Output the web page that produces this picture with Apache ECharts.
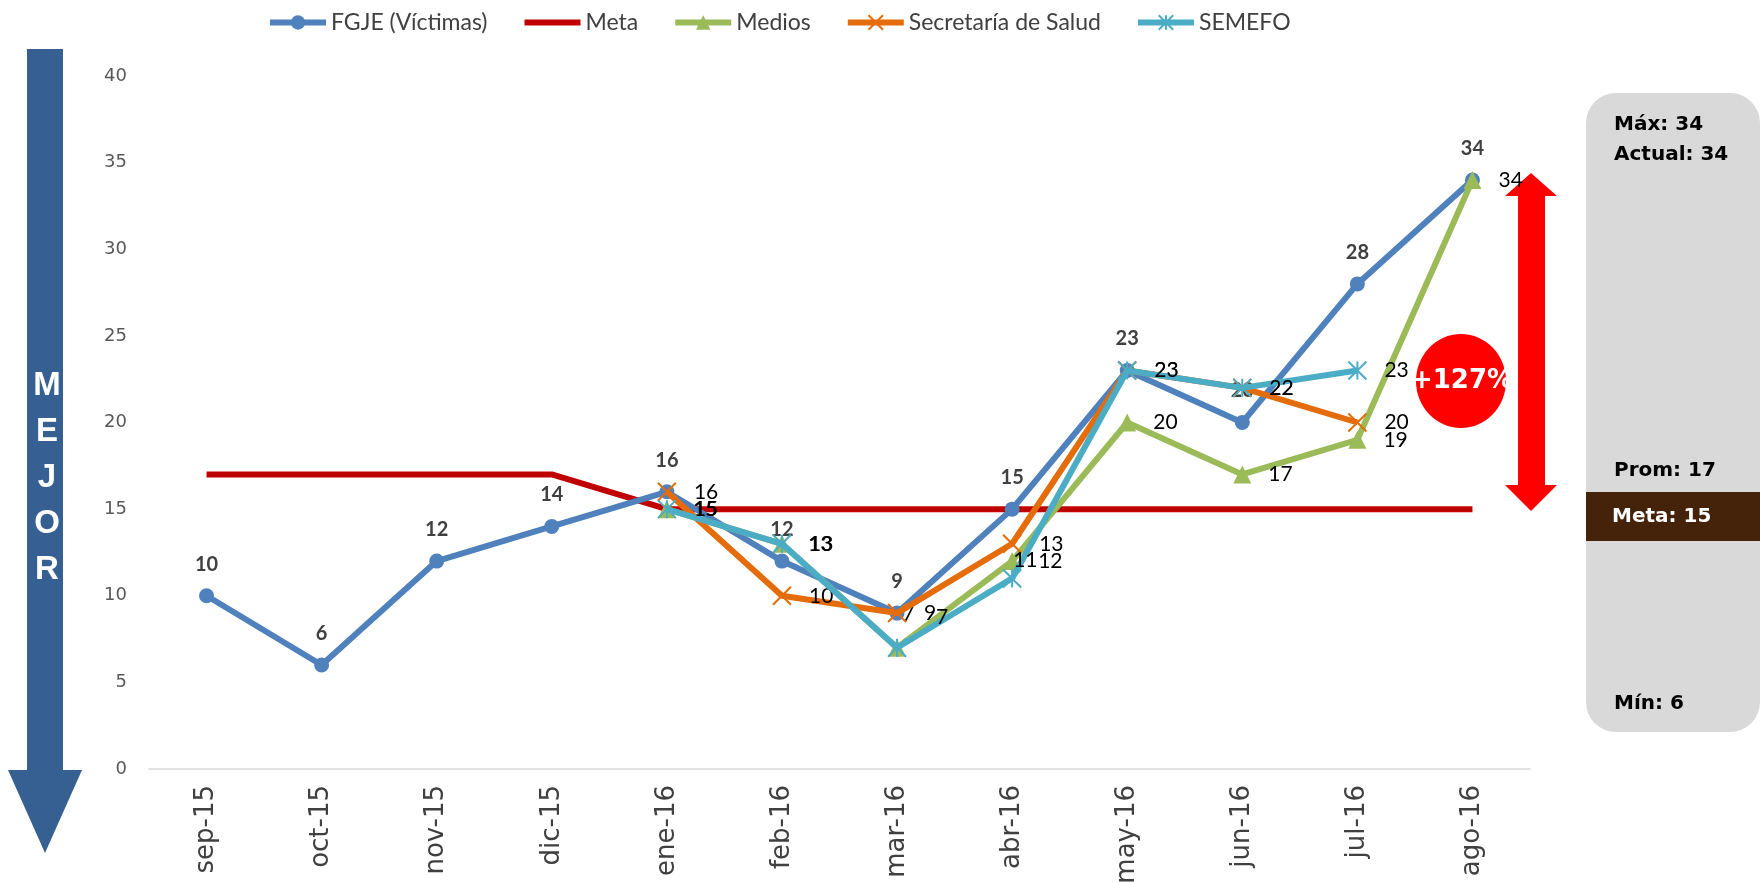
<!DOCTYPE html>
<html>
<head>
<meta charset="utf-8">
<script src="https://cdn.jsdelivr.net/npm/echarts@6/dist/echarts.min.js"></script>
<style>
  html, body { margin: 0; padding: 0; background: #fff; }
  #chart { width: 1760px; height: 883px; }
</style>
</head>
<body>
<div id="chart"></div>
<script>
// datos
const months = ["sep-15", "oct-15", "nov-15", "dic-15", "ene-16", "feb-16", "mar-16", "abr-16", "may-16", "jun-16", "jul-16", "ago-16"];
const fgje = [10, 6, 12, 14, 16, 12, 9, 15, 23, 20, 28, 34];
const meta = [17, 17, 17, 17, 15, 15, 15, 15, 15, 15, 15, 15];
const medios = ["-", "-", "-", "-", 15, 13, 7, 12, 20, 17, 19, 34];
const salud = ["-", "-", "-", "-", 16, 10, 9, 13, 23, 22, 20, "-"];
const semefo = ["-", "-", "-", "-", 15, 13, 7, 11, 23, 22, 23, "-"];

const metaActual = meta[meta.length - 1];
const maxV = Math.max(...fgje);
const minV = Math.min(...fgje);
const actual = fgje[fgje.length - 1];
const prom = Math.round(fgje.reduce((a, b) => a + b, 0) / fgje.length);
const pct = Math.round((actual - metaActual) / metaActual * 100);

// etiquetas movidas a mano en el original
const nudges = {
  "Medios": { 6: [-21, -33] },
  "SEMEFO": { 6: [12, -30], 7: [-26, -18] }
};

function withNudges(name, arr) {
  return arr.map((v, i) => {
    const n = nudges[name] && nudges[name][i];
    if (!n) return v;
    return { value: v, label: { offset: n } };
  });
}

const sideLabel = {
  show: true,
  position: "right",
  distance: 17,
  color: "#000",
  fontFamily: "Lato",
  fontSize: 21
};

const chart = echarts.init(document.getElementById("chart"));

const option = {
  animation: false,
  textStyle: { fontFamily: "DejaVu Sans" },
  legend: {
    top: 6,
    left: 262,
    itemWidth: 56,
    itemHeight: 18,
    itemGap: 34,
    itemStyle: { borderWidth: 2 },
    lineStyle: { width: 6 },
    textStyle: { color: "#404040", fontSize: 23, fontFamily: "Lato" },
    data: [
      "FGJE (Víctimas)",
      { name: "Meta", itemStyle: { opacity: 0 } },
      "Medios",
      "Secretaría de Salud",
      "SEMEFO"
    ]
  },
  grid: { left: 149, right: 230, top: 76, bottom: 114, containLabel: false, outerBoundsMode: "none" },
  xAxis: {
    type: "category",
    data: months,
    boundaryGap: true,
    axisLine: { lineStyle: { color: "#D9D9D9", width: 1.5 } },
    axisTick: { show: false },
    axisLabel: { rotate: 90, color: "#404040", fontSize: 26, margin: 16, fontFamily: "DejaVu Sans" }
  },
  yAxis: {
    type: "value",
    min: 0,
    max: 40,
    interval: 5,
    splitLine: { show: false },
    axisLine: { show: false },
    axisTick: { show: false },
    axisLabel: { color: "#595959", fontSize: 18, margin: 22, fontFamily: "DejaVu Sans" }
  },
  series: [
    {
      name: "Meta",
      type: "line",
      data: meta,
      symbol: "none",
      lineStyle: { color: "#C00000", width: 6 },
      itemStyle: { color: "#C00000" },
      z: 1
    },
    {
      name: "FGJE (Víctimas)",
      type: "line",
      data: fgje,
      symbol: "circle",
      symbolSize: 15,
      lineStyle: { color: "#4F81BD", width: 6 },
      itemStyle: { color: "#4F81BD" },
      label: {
        show: true,
        position: "top",
        distance: 14,
        color: "#404040",
        fontWeight: "bold",
        fontSize: 20,
        fontFamily: "Lato"
      },
      z: 2
    },
    {
      name: "Medios",
      type: "line",
      data: withNudges("Medios", medios),
      symbol: "triangle",
      symbolSize: 18,
      lineStyle: { color: "#9BBB59", width: 6 },
      itemStyle: { color: "#9BBB59" },
      label: sideLabel,
      z: 3
    },
    {
      name: "Secretaría de Salud",
      type: "line",
      data: withNudges("Secretaría de Salud", salud),
      symbol: "path://M0,0L10,10M10,0L0,10",
      symbolSize: 18,
      lineStyle: { color: "#E46C0A", width: 6 },
      itemStyle: { color: "#E46C0A", borderColor: "#E46C0A", borderWidth: 2 },
      label: sideLabel,
      z: 4
    },
    {
      name: "SEMEFO",
      type: "line",
      data: withNudges("SEMEFO", semefo),
      symbol: "path://M5,0L5,10M0,0L10,10M10,0L0,10",
      symbolSize: 18,
      lineStyle: { color: "#4BACC6", width: 6 },
      itemStyle: { color: "#4BACC6", borderColor: "#4BACC6", borderWidth: 2 },
      label: sideLabel,
      z: 5
    }
  ],
  graphic: [
    // flecha azul MEJOR
    {
      type: "polygon",
      shape: { points: [[27, 49], [63, 49], [63, 770], [82, 770], [45, 853], [8, 770], [27, 770]] },
      style: { fill: "#376092" }
    },
    {
      type: "text",
      x: 47,
      y: 478,
      style: {
        text: "M\nE\nJ\nO\nR",
        fill: "#fff",
        font: "bold 33px 'Liberation Sans'",
        lineHeight: 46,
        align: "center",
        verticalAlign: "middle"
      }
    },
    // flecha roja doble
    {
      type: "polygon",
      shape: {
        points: [[1531, 173], [1557, 196], [1545, 196], [1545, 485], [1557, 485], [1531, 511],
                 [1505, 485], [1518, 485], [1518, 196], [1505, 196]]
      },
      style: { fill: "#FF0000" }
    },
    {
      type: "ellipse",
      shape: { cx: 1461, cy: 381, rx: 45, ry: 47 },
      style: { fill: "#FF0000" }
    },
    {
      type: "text",
      x: 1462,
      y: 381,
      style: {
        text: "+" + pct + "%",
        fill: "#fff",
        font: "bold 26px 'DejaVu Sans'",
        align: "center",
        verticalAlign: "middle"
      }
    },
    // panel gris
    {
      type: "rect",
      shape: { x: 1586, y: 93, width: 174, height: 639, r: 30 },
      style: { fill: "#D9D9D9" }
    },
    {
      type: "rect",
      shape: { x: 1586, y: 492, width: 174, height: 49 },
      style: { fill: "#45220A" }
    },
    {
      type: "text", x: 1614, y: 125,
      style: { text: "Máx: " + maxV, fill: "#000", font: "bold 20px 'DejaVu Sans'", verticalAlign: "middle" }
    },
    {
      type: "text", x: 1614, y: 155,
      style: { text: "Actual: " + actual, fill: "#000", font: "bold 20px 'DejaVu Sans'", verticalAlign: "middle" }
    },
    {
      type: "text", x: 1614, y: 471,
      style: { text: "Prom: " + prom, fill: "#000", font: "bold 20px 'DejaVu Sans'", verticalAlign: "middle" }
    },
    {
      type: "text", x: 1612, y: 517,
      style: { text: "Meta: " + metaActual, fill: "#fff", font: "bold 20px 'DejaVu Sans'", verticalAlign: "middle" }
    },
    {
      type: "text", x: 1614, y: 704,
      style: { text: "Mín: " + minV, fill: "#000", font: "bold 20px 'DejaVu Sans'", verticalAlign: "middle" }
    }
  ]
};

chart.setOption(option);
window.addEventListener("resize", () => chart.resize(), false);
</script>
</body>
</html>
